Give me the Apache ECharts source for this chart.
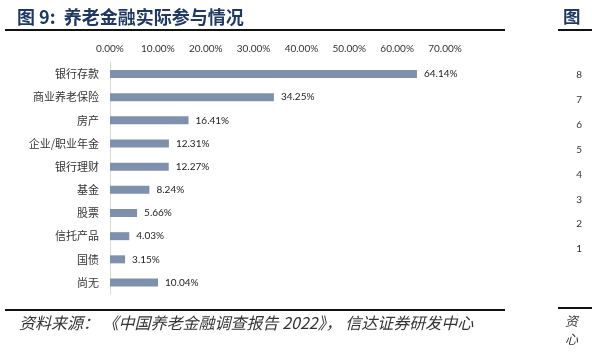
<!DOCTYPE html>
<html><head><meta charset="utf-8">
<script src="https://cdn.jsdelivr.net/npm/echarts@6/dist/echarts.min.js"></script>
<style>html,body{margin:0;padding:0;background:#fff}#c{width:592px;height:354px}</style>
</head><body><div id="c"></div>
<script>
const categories = ['银行存款','商业养老保险','房产','企业/职业年金','银行理财','基金','股票','信托产品','国债','尚无'];
const values = [64.14, 34.25, 16.41, 12.31, 12.27, 8.24, 5.66, 4.03, 3.15, 10.04];
const rightTicks = [1, 8];
const titleText = '图 9:  养老金融实际参与情况';
const sourceText = '资料来源： 《中国养老金融调查报告 2022》， 信达证券研发中心';

const chart = echarts.init(document.getElementById('c'), null, {renderer:'canvas'});
chart.setOption({
  animation: false,
  backgroundColor: '#fff',
  grid: [
    {left: 110, top: 62.4, width: 335, height: 231.7},
    {left: 588, top: 75, width: 10, height: 174}
  ],
  xAxis: [{
    gridIndex: 0, type: 'value', position: 'top', min: 0, max: 70, interval: 10,
    axisLine: {show: false}, axisTick: {show: false}, splitLine: {show: false},
    axisLabel: {margin: 9, color: '#333', fontFamily: 'Lato', fontSize: 10,
      formatter: v => v.toFixed(2) + '%'}
  }, {
    gridIndex: 1, type: 'value', show: false
  }],
  yAxis: [{
    gridIndex: 0, type: 'category', data: categories, inverse: true,
    axisLine: {show: true, lineStyle: {color: '#d9d9d9', width: 1}},
    axisTick: {show: false},
    axisLabel: {margin: 11, color: '#333', fontFamily: 'Noto Sans CJK SC', fontSize: 11}
  }, {
    gridIndex: 1, type: 'value', min: rightTicks[0], max: rightTicks[1], interval: 1,
    axisLine: {show: false}, axisTick: {show: false}, splitLine: {show: false},
    axisLabel: {margin: 6, color: '#333', fontFamily: 'Lato', fontSize: 10}
  }],
  series: [{
    type: 'bar', xAxisIndex: 0, yAxisIndex: 0, data: values, barWidth: 8,
    itemStyle: {color: '#7f90ad'},
    label: {show: true, position: 'right', distance: 7, color: '#222',
      fontFamily: 'Lato', fontSize: 10, formatter: p => p.value.toFixed(2) + '%'}
  }],
  graphic: [
    {type: 'text', left: 17, top: 8, style: {text: titleText, fontSize: 18, fontWeight: 'bold',
      fontFamily: 'Noto Sans CJK SC', fill: '#1f3864'}},
    {type: 'rect', shape: {x: 5, y: 29, width: 500, height: 2}, style: {fill: '#111'}},
    {type: 'text', left: 563, top: 8, style: {text: '图', fontSize: 17.5, fontWeight: 'bold',
      fontFamily: 'Noto Sans CJK SC', fill: '#1f3864'}},
    {type: 'rect', shape: {x: 558, y: 29, width: 34, height: 2}, style: {fill: '#111'}},
    {type: 'rect', shape: {x: 5, y: 309, width: 500, height: 2}, style: {fill: '#111'}},
    {type: 'rect', shape: {x: 558, y: 307, width: 34, height: 2}, style: {fill: '#111'}},
    {type: 'text', left: 19, top: 315, style: {text: sourceText, fontSize: 16, fontStyle: 'italic',
      fontFamily: 'Noto Sans CJK SC', fill: '#333'}},
    {type: 'text', left: 565, top: 315, style: {text: '资', fontSize: 13, fontStyle: 'italic',
      fontFamily: 'Noto Sans CJK SC', fill: '#333'}},
    {type: 'text', left: 565, top: 333, style: {text: '心', fontSize: 13, fontStyle: 'italic',
      fontFamily: 'Noto Sans CJK SC', fill: '#333'}}
  ]
});
</script></body></html>
